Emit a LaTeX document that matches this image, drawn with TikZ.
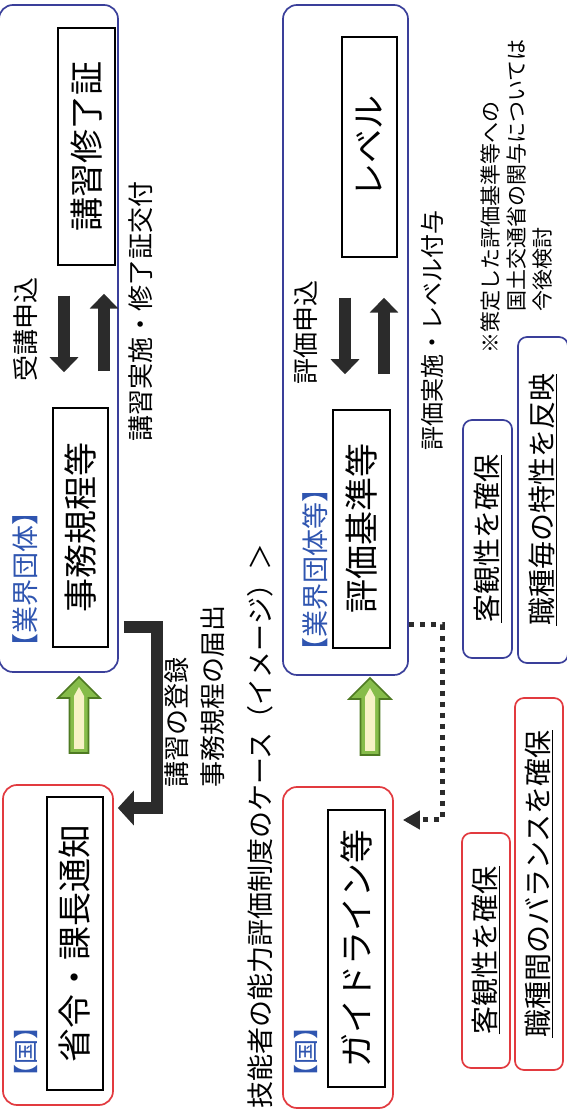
\documentclass[tikz,border=0pt]{standalone}
\usepackage{fontspec}
\newfontfamily\jp{Noto Sans CJK JP}
\usetikzlibrary{arrows.meta,calc}
\definecolor{boxred}{HTML}{E23A3F}
\definecolor{boxblue}{HTML}{3A3F9A}
\definecolor{lblblue}{HTML}{2F55B0}
\definecolor{gdark}{HTML}{4E7A22}
\definecolor{gmid}{HTML}{86BC4A}
\definecolor{gpale}{HTML}{F6F2C6}
\definecolor{blk}{HTML}{2B2B2B}
\newcommand\fs[1]{\fontsize{#1}{#1}\selectfont}
\newcommand\grarrow[3]{%
 \filldraw[fill=gmid, draw=gdark, line width=1.6pt, line join=miter] (#1,{#3-9.5}) -- ({#2-21},{#3-9.5}) -- ({#2-21},{#3-21}) -- (#2,#3) -- ({#2-21},{#3+21}) -- ({#2-21},{#3+9.5}) -- (#1,{#3+9.5}) -- cycle;
 \fill[gpale] ({#1+4},{#3-5}) -- ({#2-19},{#3-5}) -- ({#2-10},#3) -- ({#2-19},{#3+5}) -- ({#1+4},{#3+5}) -- cycle;
}
\begin{document}
\begin{tikzpicture}
\useasboundingbox (0,0) rectangle (566pt,1111pt);
\fill[white] (0,0) rectangle (566pt,1111pt);
\begin{scope}[rotate=90, transform shape, x=1pt, y=-1pt, font=\jp,
 redbox/.style={draw=boxred, line width=1.7pt, rounded corners=14pt, inner sep=0pt},
 bluebox/.style={draw=boxblue, line width=1.7pt, rounded corners=14pt, inner sep=0pt},
 inbox/.style={draw=black, line width=1.5pt, inner sep=0pt, font=\jp\fs{34}},
 lbl/.style={text=lblblue, inner sep=0pt, anchor=west},
 txt/.style={inner sep=0pt, anchor=west},
 plain/.style={inner sep=0pt},
 blkarr/.style={draw=blk, line width=12pt, -{Triangle[width=28pt,length=15pt]}},
 larr/.style={draw=blk, line width=12pt, line join=miter, -{Triangle[width=34pt,length=16pt]}},
 dotarr/.style={draw=blk, line width=5pt, dash pattern=on 5pt off 6pt, line join=miter, -{Triangle[width=18pt,length=17pt]}},
 smallbox/.style={line width=1.7pt, rounded corners=9pt, inner sep=0pt, font=\jp\fs{28}}
]
% title
\node[txt, font=\jp\fs{27}] (title) at (2,260) {技能者の能力評価制度のケース（イメージ）＞};

% upper row
\node[redbox, minimum width=320pt, minimum height=110pt] (red1) at (166,58) {};
\node[inbox, minimum width=293pt, minimum height=56pt] (rei) at (167.5,75) {省令・課長通知};
\node[lbl, font=\jp\fs{25}] (kuni1) at (21,26) {【国】};
\node[bluebox, minimum width=667pt, minimum height=119pt] (blue1) at (772.5,58.5) {};
\node[lbl, font=\jp\fs{27}] (gyo1) at (450,25) {【業界団体】};
\node[inbox, minimum width=239pt, minimum height=55pt] (jimu) at (583.5,80.5) {事務規程等};
\node[inbox, minimum width=237pt, minimum height=57pt] (kosyu) at (964.5,86.5) {講習修了証};
\node[plain, font=\jp\fs{26}] (jukou) at (781,26) {受講申込};
\node[plain, font=\jp\fs{26}] (kjisshi) at (799,141) {講習実施・修了証交付};
\node[txt, font=\jp\fs{26}] (touroku) at (323,177) {講習の登録};
\node[txt, font=\jp\fs{26}] (todoke) at (323,213) {事務規程の届出};

\draw[blkarr, shorten <=30pt, shorten >=35pt] (kosyu.west |- 0,64) -- (jimu.east |- 0,64);
\draw[blkarr, shorten <=36pt, shorten >=28pt] (jimu.east |- 0,104) -- (kosyu.west |- 0,104);
\coordinate (L1) at (484,157);
\coordinate (L2) at (303,157);
\draw[larr, shorten <=5pt, shorten >=4pt] (blue1.south -| L1) -- (L1) -- (L2) -- (red1.south -| L2);
\grarrow{358}{434}{79}

% lower row
\node[redbox, minimum width=321pt, minimum height=110pt] (red2) at (163.5,338) {};
\node[inbox, minimum width=277pt, minimum height=57pt] (guide) at (162.5,356.5) {ガイドライン等};
\node[lbl, font=\jp\fs{25}] (kuni2) at (21,306) {【国】};
\node[bluebox, minimum width=670pt, minimum height=125pt] (blue2) at (771,345.5) {};
\node[lbl, font=\jp\fs{27}] (gyo2) at (446,315) {【業界団体等】};
\node[inbox, minimum width=238pt, minimum height=57pt] (hyoka) at (582,361.5) {評価基準等};
\node[inbox, minimum width=220pt, minimum height=55pt] (level) at (964,369.5) {レベル};
\node[plain, font=\jp\fs{26}] (hmoushi) at (778,306) {評価申込};
\node[plain, font=\jp\fs{24}] (hjisshi) at (780,432) {評価実施・レベル付与};

\draw[blkarr, shorten <=40pt, shorten >=35pt] (level.west |- 0,345) -- (hyoka.east |- 0,345);
\draw[blkarr, shorten <=35pt, shorten >=40pt] (hyoka.east |- 0,384) -- (level.west |- 0,384);
\coordinate (D1) at (486,442);
\coordinate (D2) at (291,442);
\draw[dotarr, shorten >=9pt] (blue2.south -| D1) -- (D1) -- (D2) -- (red2.south -| D2);
\grarrow{356}{433}{370}

% bottom boxes
\node[smallbox, draw=boxred, minimum width=235pt, minimum height=48pt] (redS) at (160.5,486) {\underline{客観性を確保}};
\node[smallbox, draw=boxred, minimum width=372pt, minimum height=48pt] (redL) at (227,539) {\underline{職種間のバランスを確保}};
\node[smallbox, draw=boxblue, minimum width=238pt, minimum height=49pt] (blueS) at (572,487.5) {\underline{客観性を確保}};
\node[smallbox, draw=boxblue, minimum width=326pt, minimum height=50pt] (blueL) at (611,543) {\underline{職種毎の特性を反映}};

% note
\node[anchor=north west, inner sep=0pt, align=left, font=\jp\fontsize{21}{26}\selectfont] (note) at (757,481) {※策定した評価基準等への\\\hspace*{2em}国土交通省の関与については\\\hspace*{2em}今後検討};
\end{scope}
\end{tikzpicture}
\end{document}
